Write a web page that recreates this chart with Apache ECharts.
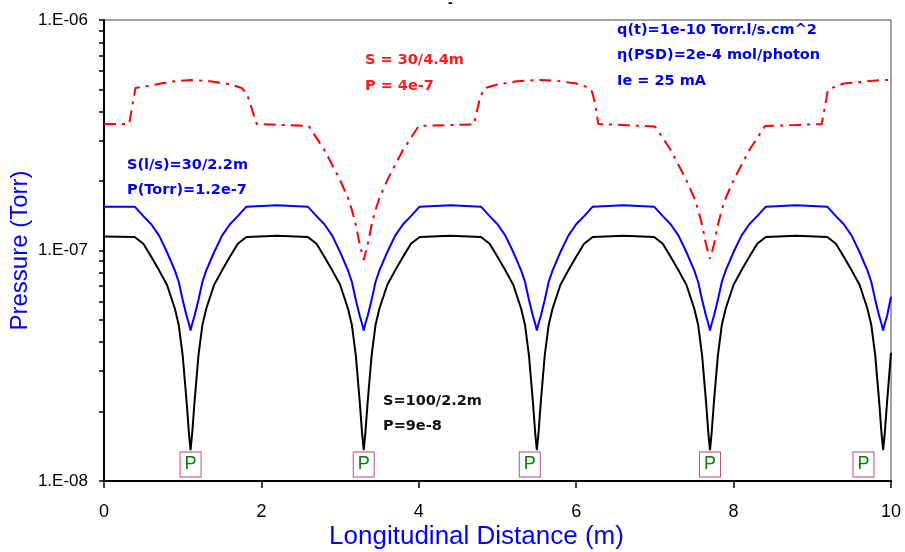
<!DOCTYPE html>
<html><head><meta charset="utf-8">
<script src="https://cdn.jsdelivr.net/npm/echarts@6/dist/echarts.min.js"></script>
<style>html,body{margin:0;padding:0;background:#fff}#c{width:905px;height:552px}</style>
</head><body><div id="c"></div>
<script>
// Longitudinal distance (m) shared by the 30/2.2m (blue) and 100/2.2m (black) profiles
const xDist = [
  0, 0.39, 0.5, 0.6, 0.7, 0.8, 0.9, 0.95, 1.0, 1.05, 1.08, 1.1, 1.12, 1.15, 1.2, 1.25, 1.3, 1.4, 1.5, 1.6, 1.7, 1.81, 2.2,
  2.59, 2.7, 2.8, 2.9, 3.0, 3.1, 3.15, 3.2, 3.25, 3.28, 3.3, 3.32, 3.35, 3.4, 3.45, 3.5, 3.6, 3.7, 3.8, 3.9, 4.01, 4.4,
  4.79, 4.9, 5.0, 5.1, 5.2, 5.3, 5.35, 5.4, 5.45, 5.48, 5.5, 5.52, 5.55, 5.6, 5.65, 5.7, 5.8, 5.9, 6.0, 6.1, 6.21, 6.6,
  6.99, 7.1, 7.2, 7.3, 7.4, 7.5, 7.55, 7.6, 7.65, 7.68, 7.7, 7.72, 7.75, 7.8, 7.85, 7.9, 8.0, 8.1, 8.2, 8.3, 8.41, 8.8,
  9.19, 9.3, 9.4, 9.5, 9.6, 9.7, 9.75, 9.8, 9.85, 9.88, 9.9, 9.92, 9.95, 10.0
];
// Pressure (Torr), S = 30 l/s every 2.2 m
const pressureBlue = [
  1.55e-7, 1.55e-7, 1.41e-7, 1.30e-7, 1.16e-7, 9.85e-8, 8.2e-8, 7.3e-8, 6.1e-8, 5.2e-8, 4.8e-8, 4.5e-8, 4.8e-8, 5.2e-8, 6.1e-8, 7.3e-8, 8.2e-8, 9.85e-8, 1.16e-7, 1.30e-7, 1.41e-7, 1.55e-7, 1.57e-7,
  1.55e-7, 1.41e-7, 1.30e-7, 1.16e-7, 9.85e-8, 8.2e-8, 7.3e-8, 6.1e-8, 5.2e-8, 4.8e-8, 4.5e-8, 4.8e-8, 5.2e-8, 6.1e-8, 7.3e-8, 8.2e-8, 9.85e-8, 1.16e-7, 1.30e-7, 1.41e-7, 1.55e-7, 1.57e-7,
  1.55e-7, 1.41e-7, 1.30e-7, 1.16e-7, 9.85e-8, 8.2e-8, 7.3e-8, 6.1e-8, 5.2e-8, 4.8e-8, 4.5e-8, 4.8e-8, 5.2e-8, 6.1e-8, 7.3e-8, 8.2e-8, 9.85e-8, 1.16e-7, 1.30e-7, 1.41e-7, 1.55e-7, 1.57e-7,
  1.55e-7, 1.41e-7, 1.30e-7, 1.16e-7, 9.85e-8, 8.2e-8, 7.3e-8, 6.1e-8, 5.2e-8, 4.8e-8, 4.5e-8, 4.8e-8, 5.2e-8, 6.1e-8, 7.3e-8, 8.2e-8, 9.85e-8, 1.16e-7, 1.30e-7, 1.41e-7, 1.55e-7, 1.57e-7,
  1.55e-7, 1.41e-7, 1.30e-7, 1.16e-7, 9.85e-8, 8.2e-8, 7.3e-8, 6.1e-8, 5.2e-8, 4.8e-8, 4.5e-8, 4.8e-8, 5.2e-8, 6.3e-8
];
// Pressure (Torr), S = 100 l/s every 2.2 m
const pressureBlack = [
  1.15e-7, 1.145e-7, 1.07e-7, 9.4e-8, 8.2e-8, 7.1e-8, 5.6e-8, 4.75e-8, 3.5e-8, 2.2e-8, 1.6e-8, 1.36e-8, 1.6e-8, 2.2e-8, 3.5e-8, 4.75e-8, 5.6e-8, 7.1e-8, 8.2e-8, 9.4e-8, 1.07e-7, 1.145e-7, 1.16e-7,
  1.145e-7, 1.07e-7, 9.4e-8, 8.2e-8, 7.1e-8, 5.6e-8, 4.75e-8, 3.5e-8, 2.2e-8, 1.6e-8, 1.36e-8, 1.6e-8, 2.2e-8, 3.5e-8, 4.75e-8, 5.6e-8, 7.1e-8, 8.2e-8, 9.4e-8, 1.07e-7, 1.145e-7, 1.16e-7,
  1.145e-7, 1.07e-7, 9.4e-8, 8.2e-8, 7.1e-8, 5.6e-8, 4.75e-8, 3.5e-8, 2.2e-8, 1.6e-8, 1.36e-8, 1.6e-8, 2.2e-8, 3.5e-8, 4.75e-8, 5.6e-8, 7.1e-8, 8.2e-8, 9.4e-8, 1.07e-7, 1.145e-7, 1.16e-7,
  1.145e-7, 1.07e-7, 9.4e-8, 8.2e-8, 7.1e-8, 5.6e-8, 4.75e-8, 3.5e-8, 2.2e-8, 1.6e-8, 1.36e-8, 1.6e-8, 2.2e-8, 3.5e-8, 4.75e-8, 5.6e-8, 7.1e-8, 8.2e-8, 9.4e-8, 1.07e-7, 1.145e-7, 1.16e-7,
  1.145e-7, 1.07e-7, 9.4e-8, 8.2e-8, 7.1e-8, 5.6e-8, 4.75e-8, 3.5e-8, 2.2e-8, 1.6e-8, 1.36e-8, 1.6e-8, 2.2e-8, 3.6e-8
];
// S = 30 l/s every 4.4 m (red dash-dot)
const redX = [
  0, 0.32, 0.40, 0.6, 0.85, 1.1, 1.35, 1.6, 1.75, 1.82, 1.94, 2.3, 2.6,
  2.7, 2.8, 2.9, 3.0, 3.1, 3.15, 3.2, 3.25, 3.3, 3.35, 3.4, 3.45, 3.5, 3.6, 3.7, 3.8, 3.9, 4.0,
  4.4, 4.70, 4.78, 4.84, 5.0, 5.25, 5.5, 5.75, 6.0, 6.15, 6.2, 6.24, 6.28, 6.6, 7.0,
  7.1, 7.2, 7.3, 7.4, 7.5, 7.55, 7.6, 7.65, 7.7, 7.75, 7.8, 7.85, 7.9, 8.0, 8.1, 8.2, 8.3, 8.4,
  8.8, 9.12, 9.2, 9.4, 9.7, 9.9, 10.0
];
const pressureRed = [
  3.54e-7, 3.54e-7, 5.07e-7, 5.2e-7, 5.4e-7, 5.49e-7, 5.42e-7, 5.27e-7, 5.07e-7, 4.75e-7, 3.54e-7, 3.5e-7, 3.47e-7,
  3.08e-7, 2.73e-7, 2.35e-7, 2.02e-7, 1.69e-7, 1.5e-7, 1.29e-7, 1.06e-7, 9.1e-8, 1.06e-7, 1.29e-7, 1.5e-7, 1.69e-7, 2.02e-7, 2.35e-7, 2.73e-7, 3.08e-7, 3.47e-7,
  3.5e-7, 3.52e-7, 4.63e-7, 5.07e-7, 5.25e-7, 5.42e-7, 5.49e-7, 5.45e-7, 5.3e-7, 5.1e-7, 4.9e-7, 4.36e-7, 3.54e-7, 3.5e-7, 3.45e-7,
  3.08e-7, 2.73e-7, 2.35e-7, 2.02e-7, 1.69e-7, 1.5e-7, 1.29e-7, 1.06e-7, 9.2e-8, 1.06e-7, 1.29e-7, 1.5e-7, 1.69e-7, 2.02e-7, 2.35e-7, 2.73e-7, 3.08e-7, 3.47e-7,
  3.5e-7, 3.54e-7, 5.0e-7, 5.3e-7, 5.42e-7, 5.49e-7, 5.49e-7
];
// Pump markers "P"
const pumpX = [1.1, 3.3, 5.41, 7.7, 9.65];
const pumpY = [1.18e-8, 1.18e-8, 1.18e-8, 1.18e-8, 1.18e-8];
// Axis ticks
const xTickInterval = 2;
const yLabelValues = [1e-8, 1e-7, 1e-6];
const yTickValues = [1e-8, 2e-8, 3e-8, 4e-8, 5e-8, 6e-8, 7e-8, 8e-8, 9e-8, 1e-7, 2e-7, 3e-7, 4e-7, 5e-7, 6e-7, 7e-7, 8e-7, 9e-7, 1e-6];

const ANN = "'DejaVu Sans', sans-serif";
const chart = echarts.init(document.getElementById('c'), null, {renderer: 'canvas'});
const pair = (xs, ys) => xs.map((x, i) => [x, ys[i]]);
chart.setOption({
  animation: false,
  backgroundColor: '#fff',
  grid: {left: 104, right: 14, top: 20, bottom: 71, show: true, borderColor: '#444', borderWidth: 1,
         containLabel: false, outerBoundsMode: 'none'},
  xAxis: {
    type: 'value', min: 0, max: 10, interval: xTickInterval,
    name: 'Longitudinal Distance (m)', nameLocation: 'middle', nameGap: 43, nameMoveOverlap: false,
    nameTextStyle: {color: '#0000ff', fontSize: 26, fontFamily: 'Liberation Sans', padding: [0, 42, 0, 0]},
    axisLine: {lineStyle: {color: '#000', width: 2}},
    axisTick: {inside: false, length: 7, lineStyle: {color: '#000', width: 1.5}},
    axisLabel: {color: '#000', fontSize: 18, fontFamily: 'Liberation Sans', margin: 22},
    splitLine: {show: false}
  },
  yAxis: [{
    type: 'log', logBase: 10, min: 1e-8, max: 1e-6,
    name: 'Pressure (Torr)', nameLocation: 'middle', nameGap: 72, nameMoveOverlap: false,
    nameTextStyle: {color: '#0000ff', fontSize: 24, fontFamily: 'Liberation Sans'},
    axisLine: {lineStyle: {color: '#000', width: 2}},
    axisTick: {show: false},
    axisLabel: {
      color: '#000', fontSize: 17, fontFamily: 'Liberation Sans', margin: 16,
      customValues: yLabelValues,
      formatter: v => '1.E-' + String(Math.round(-Math.log10(v))).padStart(2, '0')
    },
    splitLine: {show: false}, minorTick: {show: false}
  }, {
    // tick-only companion axis in decade units carrying the log minor ticks
    type: 'value', min: -8, max: -6, position: 'left', offset: 0,
    axisLine: {show: false}, axisLabel: {show: false}, splitLine: {show: false},
    axisTick: {show: true, inside: false, length: 5, customValues: yTickValues.map(v => Math.log10(v)),
               lineStyle: {color: '#000', width: 1.5}}
  }],
  series: [
    {type: 'line', data: pair(redX, pressureRed), showSymbol: false, symbol: 'none', z: 3,
     lineStyle: {color: '#ff0000', width: 2, type: [12, 6, 3, 6]}},
    {type: 'line', data: pair(xDist, pressureBlue), showSymbol: false, symbol: 'none', z: 4,
     lineStyle: {color: '#0000ff', width: 2}},
    {type: 'line', data: pair(xDist, pressureBlack), showSymbol: false, symbol: 'none', z: 5,
     lineStyle: {color: '#000000', width: 2}},
    {type: 'scatter', data: pair(pumpX, pumpY), symbol: 'rect', symbolSize: [21, 25], z: 6,
     itemStyle: {color: '#fff', borderColor: '#b8437a', borderWidth: 1, opacity: 1},
     label: {show: true, position: 'inside', formatter: 'P', color: '#008000', fontSize: 18, fontFamily: 'Liberation Sans'}}
  ],
  graphic: [
    {type: 'text', left: 448, top: -4, style: {text: '-', fontSize: 14, fontWeight: 'bold', fill: '#000', fontFamily: 'Liberation Sans'}},
    {type: 'text', left: 127, top: 158, style: {text: 'S(l/s)=30/2.2m', fontSize: 14.5, fontWeight: 'bold', fill: '#0000f0', fontFamily: ANN}},
    {type: 'text', left: 127, top: 183, style: {text: 'P(Torr)=1.2e-7', fontSize: 14.5, fontWeight: 'bold', fill: '#0000f0', fontFamily: ANN}},
    {type: 'text', left: 365, top: 53, style: {text: 'S = 30/4.4m', fontSize: 14.5, fontWeight: 'bold', fill: '#ff1a1a', fontFamily: ANN}},
    {type: 'text', left: 365, top: 79, style: {text: 'P = 4e-7', fontSize: 14.5, fontWeight: 'bold', fill: '#ff1a1a', fontFamily: ANN}},
    {type: 'text', left: 617, top: 23, style: {text: 'q(t)=1e-10 Torr.l/s.cm^2', fontSize: 14.5, fontWeight: 'bold', fill: '#0000f0', fontFamily: ANN}},
    {type: 'text', left: 617, top: 48, style: {text: 'η(PSD)=2e-4 mol/photon', fontSize: 14.5, fontWeight: 'bold', fill: '#0000f0', fontFamily: ANN}},
    {type: 'text', left: 617, top: 74, style: {text: 'Ie = 25 mA', fontSize: 14.5, fontWeight: 'bold', fill: '#0000f0', fontFamily: ANN}},
    {type: 'text', left: 383, top: 394, style: {text: 'S=100/2.2m', fontSize: 14.5, fontWeight: 'bold', fill: '#111', fontFamily: ANN}},
    {type: 'text', left: 383, top: 419, style: {text: 'P=9e-8', fontSize: 14.5, fontWeight: 'bold', fill: '#111', fontFamily: ANN}}
  ]
});
</script>
</body></html>
